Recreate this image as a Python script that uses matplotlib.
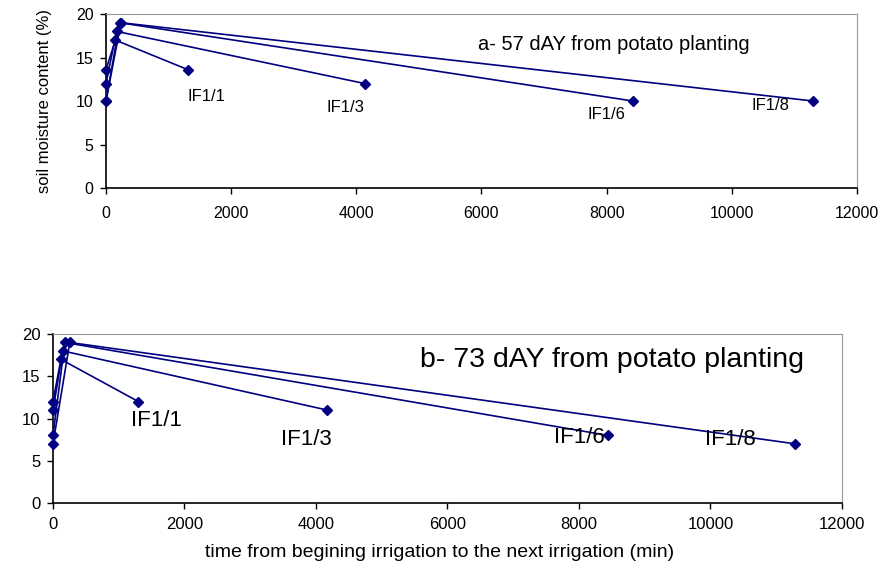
import matplotlib
matplotlib.use("Agg")
import matplotlib.pyplot as plt

plt.rcParams['font.family'] = ['Liberation Sans', 'DejaVu Sans']

labels = ['IF1/1', 'IF1/3', 'IF1/6', 'IF1/8']

# panel a - 57 days
a_time = [[0, 150, 1310], [0, 170, 4140], [0, 220, 8420], [0, 240, 11300]]
a_moist = [[13.6, 17, 13.6], [12, 18, 12], [10, 19, 10], [10, 19, 10]]
a_label_pos = [(1600, 10.5), (3830, 9.2), (8000, 8.4), (10620, 9.5)]

# panel b - 73 days
b_time = [[0, 120, 1300], [0, 150, 4170], [0, 180, 8440], [0, 255, 11290]]
b_moist = [[12, 17, 12], [11, 18, 11], [8, 19, 8], [7, 19, 7]]
b_label_pos = [(1570, 9.8), (3860, 7.5), (8000, 7.7), (10300, 7.5)]

navy = '#000080'

fig = plt.figure(figsize=(8.84, 5.67), dpi=100)
ax1 = fig.add_axes([0.1199, 0.6684, 0.8495, 0.3069])
ax2 = fig.add_axes([0.05995, 0.1129, 0.8925, 0.298])


def draw(ax, times, moist, lpos, title, tpos, tsize, lsize, ticksize, xpad):
    for t, m in zip(times, moist):
        ax.plot(t, m, color=navy, lw=1.2, marker='D', ms=5.5, mec=navy, mfc=navy,
                clip_on=False, zorder=3)
    for lab, (x, y) in zip(labels, lpos):
        ax.text(x, y, lab, ha='center', va='center', fontsize=lsize)
    ax.text(tpos[0], tpos[1], title, ha='center', va='center', fontsize=tsize)
    ax.set_xlim(0, 12000)
    ax.set_ylim(0, 20)
    ax.set_xticks(range(0, 12001, 2000))
    ax.set_yticks(range(0, 21, 5))
    ax.tick_params(labelsize=ticksize, length=4, width=1)
    ax.tick_params(axis='x', pad=xpad)
    ax.tick_params(axis='y', pad=5)
    for s in ['top', 'right']:
        ax.spines[s].set_color('#999999')
    for s in ['left', 'bottom']:
        ax.spines[s].set_linewidth(1.2)


draw(ax1, a_time, a_moist, a_label_pos, 'a- 57 dAY from potato planting',
     (8115, 16.55), 14.5, 12, 11.5, 9)
draw(ax2, b_time, b_moist, b_label_pos, 'b- 73 dAY from potato planting',
     (8500, 16.9), 20.5, 16, 12, 6)

ax1.set_ylabel('soil moisture content (%)', fontsize=12)
ax1.yaxis.set_label_coords(-0.072, 0.5)
ax2.set_xlabel('time from begining irrigation to the next irrigation (min)', fontsize=14)
ax2.xaxis.set_label_coords(0.49, -0.24)

fig.savefig('out.png', dpi=100)
